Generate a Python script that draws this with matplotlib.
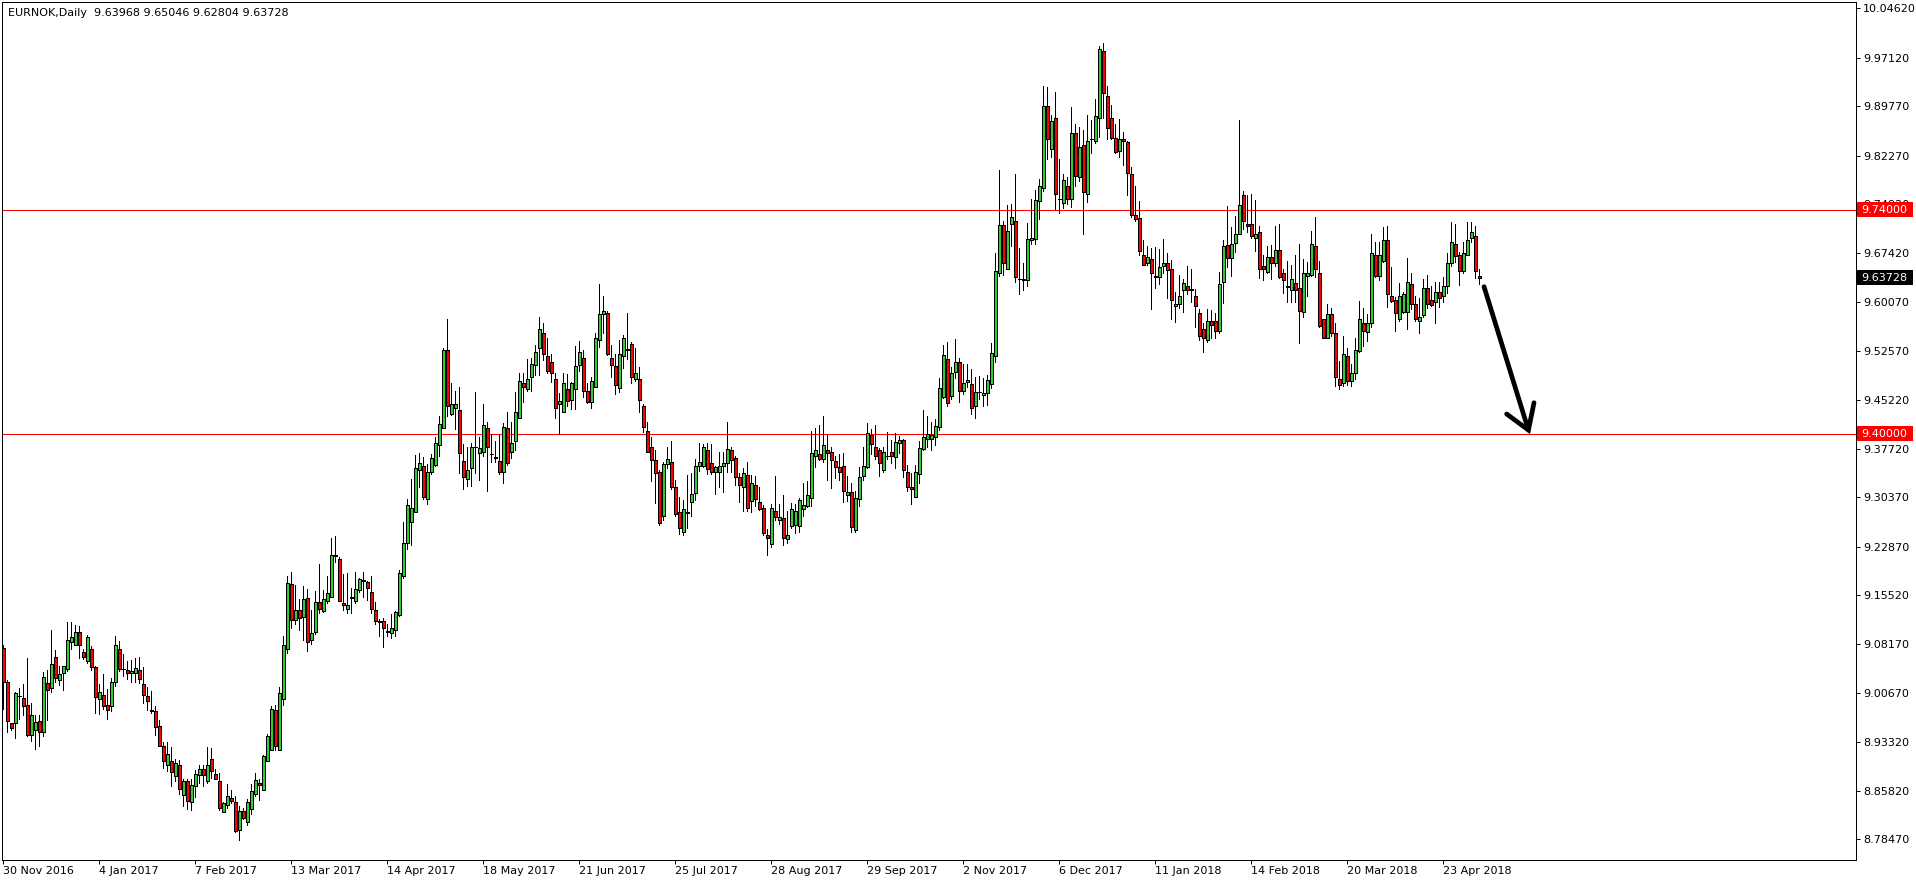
import matplotlib
matplotlib.use('Agg')
import matplotlib.pyplot as plt
from matplotlib.patches import Rectangle
import numpy as np

plt.rcParams['font.family'] = ['DejaVu Sans']

##################################################
# EURNOK daily candles, 30 Nov 2016 -> early May 2018
symbol = 'EURNOK,Daily'

opens = [
    9.075, 9.024, 8.961, 8.962, 9.002, 8.999, 8.988, 8.943, 8.950, 8.965,
    8.948, 9.022, 9.014, 9.061, 9.026, 9.037, 9.044, 9.085, 9.079, 9.100,
    9.069, 9.056, 9.074, 9.047, 8.998, 9.004, 8.988, 8.987, 9.023, 9.073,
    9.044, 9.042, 9.037, 9.037, 9.042, 9.021, 9.002, 8.981, 8.979, 8.957,
    8.927, 8.897, 8.904, 8.881, 8.897, 8.852, 8.874, 8.842, 8.866, 8.883,
    8.891, 8.873, 8.907, 8.884, 8.874, 8.826, 8.837, 8.847, 8.842, 8.799,
    8.828, 8.811, 8.831, 8.854, 8.871, 8.860, 8.904, 8.920, 8.981, 8.920,
    8.998, 9.073, 9.172, 9.118, 9.133, 9.122, 9.151, 9.087, 9.099, 9.145,
    9.131, 9.146, 9.152, 9.215, 9.211, 9.143, 9.135, 9.151, 9.146, 9.163,
    9.177, 9.175, 9.160, 9.133, 9.116, 9.116, 9.101, 9.098, 9.102, 9.126,
    9.184, 9.235, 9.267, 9.281, 9.345, 9.351, 9.301, 9.342, 9.353, 9.384,
    9.409, 9.527, 9.431, 9.440, 9.437, 9.359, 9.331, 9.349, 9.380, 9.371,
    9.373, 9.409, 9.370, 9.365, 9.359, 9.342, 9.409, 9.372, 9.390, 9.424,
    9.478, 9.468, 9.487, 9.504, 9.531, 9.554, 9.519, 9.510, 9.484, 9.446,
    9.434, 9.468, 9.451, 9.469, 9.504, 9.516, 9.465, 9.448, 9.471, 9.542,
    9.582, 9.584, 9.516, 9.503, 9.470, 9.519, 9.529, 9.536, 9.484, 9.484,
    9.442, 9.405, 9.380, 9.360, 9.342, 9.275, 9.354, 9.357, 9.319, 9.281,
    9.252, 9.281, 9.297, 9.310, 9.351, 9.352, 9.375, 9.356, 9.343, 9.343,
    9.351, 9.356, 9.375, 9.363, 9.334, 9.320, 9.338, 9.298, 9.323, 9.297,
    9.287, 9.247, 9.233, 9.283, 9.269, 9.272, 9.241, 9.260, 9.262, 9.260,
    9.286, 9.290, 9.303, 9.366, 9.369, 9.362, 9.376, 9.373, 9.359, 9.350,
    9.351, 9.308, 9.312, 9.254, 9.301, 9.336, 9.350, 9.399, 9.380, 9.376,
    9.346, 9.367, 9.373, 9.365, 9.386, 9.391, 9.342, 9.320, 9.305, 9.340,
    9.377, 9.392, 9.392, 9.396, 9.410, 9.456, 9.514, 9.458, 9.494, 9.509,
    9.465, 9.479, 9.476, 9.442, 9.464, 9.459, 9.462, 9.476, 9.518, 9.645,
    9.717, 9.651, 9.718, 9.723, 9.636, 9.635, 9.633, 9.694, 9.696, 9.753,
    9.774, 9.898, 9.833, 9.879, 9.757, 9.750, 9.777, 9.757, 9.857, 9.790,
    9.839, 9.765, 9.848, 9.844, 9.880, 9.981, 9.913, 9.879, 9.850, 9.829,
    9.847, 9.843, 9.795, 9.732, 9.728, 9.672, 9.659, 9.666, 9.640, 9.639,
    9.655, 9.660, 9.650, 9.594, 9.597, 9.619, 9.624, 9.620, 9.609, 9.584,
    9.560, 9.543, 9.571, 9.571, 9.556, 9.630, 9.687, 9.667, 9.690, 9.704,
    9.762, 9.718, 9.719, 9.698, 9.706, 9.655, 9.646, 9.669, 9.659, 9.680,
    9.645, 9.624, 9.618, 9.629, 9.621, 9.585, 9.640, 9.641, 9.685, 9.645,
    9.574, 9.545, 9.582, 9.554, 9.484, 9.478, 9.518, 9.481, 9.492, 9.526,
    9.568, 9.555, 9.569, 9.671, 9.640, 9.663, 9.695, 9.610, 9.604, 9.575,
    9.585, 9.585, 9.627, 9.598, 9.571, 9.581, 9.622, 9.604, 9.600, 9.616,
    9.610, 9.624, 9.659, 9.689, 9.671, 9.648, 9.671, 9.697, 9.701, 9.63968,
]

highs = [
    9.080, 9.027, 8.962, 9.009, 9.014, 9.021, 9.060, 8.991, 8.974, 8.974,
    9.038, 9.042, 9.103, 9.072, 9.048, 9.048, 9.115, 9.115, 9.110, 9.108,
    9.074, 9.095, 9.078, 9.048, 9.021, 9.035, 9.013, 9.029, 9.094, 9.086,
    9.066, 9.056, 9.057, 9.060, 9.061, 9.047, 9.016, 9.010, 8.987, 8.966,
    8.932, 8.932, 8.925, 8.906, 8.905, 8.876, 8.877, 8.876, 8.890, 8.898,
    8.897, 8.925, 8.923, 8.892, 8.885, 8.842, 8.868, 8.860, 8.850, 8.835,
    8.832, 8.846, 8.868, 8.885, 8.877, 8.913, 8.945, 8.987, 8.989, 9.016,
    9.094, 9.185, 9.191, 9.171, 9.149, 9.170, 9.165, 9.133, 9.162, 9.203,
    9.163, 9.185, 9.242, 9.245, 9.214, 9.187, 9.189, 9.167, 9.191, 9.181,
    9.191, 9.177, 9.185, 9.145, 9.119, 9.120, 9.112, 9.127, 9.132, 9.194,
    9.267, 9.301, 9.332, 9.368, 9.371, 9.365, 9.354, 9.370, 9.396, 9.428,
    9.530, 9.574, 9.477, 9.466, 9.472, 9.385, 9.380, 9.387, 9.464, 9.396,
    9.446, 9.418, 9.400, 9.389, 9.398, 9.416, 9.433, 9.418, 9.464, 9.493,
    9.492, 9.514, 9.515, 9.535, 9.577, 9.568, 9.545, 9.522, 9.492, 9.462,
    9.492, 9.491, 9.479, 9.534, 9.541, 9.527, 9.478, 9.486, 9.553, 9.628,
    9.609, 9.586, 9.535, 9.522, 9.542, 9.550, 9.583, 9.539, 9.530, 9.501,
    9.446, 9.418, 9.396, 9.376, 9.345, 9.358, 9.381, 9.390, 9.330, 9.304,
    9.300, 9.338, 9.341, 9.362, 9.386, 9.385, 9.386, 9.385, 9.352, 9.373,
    9.372, 9.418, 9.381, 9.366, 9.341, 9.348, 9.358, 9.338, 9.336, 9.320,
    9.292, 9.256, 9.294, 9.337, 9.294, 9.308, 9.283, 9.295, 9.294, 9.303,
    9.325, 9.328, 9.405, 9.409, 9.414, 9.428, 9.399, 9.380, 9.367, 9.370,
    9.371, 9.336, 9.326, 9.314, 9.350, 9.381, 9.417, 9.407, 9.414, 9.379,
    9.381, 9.403, 9.391, 9.402, 9.397, 9.393, 9.353, 9.341, 9.353, 9.389,
    9.437, 9.428, 9.418, 9.423, 9.485, 9.535, 9.539, 9.502, 9.544, 9.515,
    9.507, 9.507, 9.499, 9.487, 9.488, 9.485, 9.489, 9.538, 9.674, 9.801,
    9.723, 9.747, 9.749, 9.795, 9.683, 9.660, 9.721, 9.756, 9.771, 9.787,
    9.928, 9.926, 9.884, 9.919, 9.817, 9.795, 9.790, 9.897, 9.870, 9.866,
    9.862, 9.884, 9.877, 9.908, 9.989, 9.993, 9.928, 9.900, 9.870, 9.878,
    9.858, 9.844, 9.805, 9.777, 9.753, 9.694, 9.685, 9.683, 9.684, 9.681,
    9.696, 9.675, 9.664, 9.615, 9.641, 9.635, 9.655, 9.650, 9.620, 9.589,
    9.569, 9.589, 9.588, 9.584, 9.646, 9.694, 9.746, 9.714, 9.731, 9.876,
    9.769, 9.763, 9.764, 9.755, 9.715, 9.671, 9.685, 9.687, 9.716, 9.718,
    9.651, 9.662, 9.656, 9.671, 9.689, 9.665, 9.661, 9.708, 9.729, 9.662,
    9.575, 9.597, 9.591, 9.568, 9.511, 9.549, 9.530, 9.507, 9.546, 9.602,
    9.592, 9.582, 9.703, 9.691, 9.692, 9.714, 9.715, 9.654, 9.608, 9.629,
    9.616, 9.667, 9.645, 9.609, 9.606, 9.635, 9.641, 9.625, 9.631, 9.630,
    9.638, 9.675, 9.722, 9.719, 9.677, 9.691, 9.722, 9.722, 9.715, 9.65046,
]

lows = [
    8.982, 8.947, 8.951, 8.938, 8.968, 8.974, 8.942, 8.934, 8.922, 8.927,
    8.941, 8.966, 9.008, 9.023, 9.019, 9.012, 9.041, 9.073, 9.079, 9.060,
    9.058, 9.053, 9.042, 8.976, 8.975, 8.982, 8.968, 8.979, 9.018, 9.041,
    9.032, 9.028, 9.023, 9.023, 9.022, 8.991, 8.981, 8.976, 8.943, 8.926,
    8.893, 8.888, 8.865, 8.873, 8.854, 8.836, 8.831, 8.829, 8.849, 8.870,
    8.865, 8.870, 8.878, 8.877, 8.829, 8.826, 8.833, 8.840, 8.796, 8.784,
    8.815, 8.806, 8.823, 8.850, 8.844, 8.860, 8.904, 8.920, 8.921, 8.920,
    8.988, 9.068, 9.105, 9.112, 9.102, 9.087, 9.071, 9.082, 9.096, 9.128,
    9.130, 9.144, 9.152, 9.206, 9.146, 9.133, 9.128, 9.128, 9.143, 9.160,
    9.153, 9.148, 9.128, 9.111, 9.094, 9.076, 9.093, 9.090, 9.093, 9.124,
    9.182, 9.225, 9.231, 9.281, 9.319, 9.302, 9.293, 9.340, 9.351, 9.367,
    9.409, 9.428, 9.429, 9.407, 9.341, 9.317, 9.321, 9.321, 9.341, 9.330,
    9.366, 9.313, 9.358, 9.357, 9.340, 9.325, 9.353, 9.364, 9.376, 9.424,
    9.448, 9.466, 9.466, 9.489, 9.489, 9.512, 9.493, 9.479, 9.425, 9.400,
    9.433, 9.442, 9.438, 9.438, 9.496, 9.456, 9.447, 9.440, 9.471, 9.532,
    9.553, 9.520, 9.486, 9.460, 9.464, 9.500, 9.514, 9.478, 9.481, 9.434,
    9.403, 9.372, 9.329, 9.296, 9.262, 9.269, 9.349, 9.316, 9.275, 9.248,
    9.247, 9.258, 9.275, 9.300, 9.344, 9.350, 9.340, 9.340, 9.309, 9.319,
    9.312, 9.343, 9.343, 9.323, 9.297, 9.283, 9.283, 9.281, 9.290, 9.284,
    9.247, 9.216, 9.228, 9.269, 9.264, 9.231, 9.234, 9.257, 9.250, 9.252,
    9.276, 9.289, 9.290, 9.350, 9.361, 9.357, 9.330, 9.318, 9.333, 9.330,
    9.297, 9.298, 9.251, 9.251, 9.290, 9.330, 9.348, 9.370, 9.362, 9.336,
    9.343, 9.362, 9.356, 9.349, 9.371, 9.334, 9.313, 9.294, 9.305, 9.325,
    9.375, 9.381, 9.375, 9.383, 9.406, 9.454, 9.443, 9.453, 9.485, 9.449,
    9.460, 9.471, 9.431, 9.425, 9.453, 9.442, 9.444, 9.470, 9.510, 9.640,
    9.641, 9.651, 9.686, 9.631, 9.613, 9.619, 9.624, 9.689, 9.688, 9.727,
    9.769, 9.818, 9.821, 9.742, 9.735, 9.743, 9.749, 9.745, 9.777, 9.784,
    9.704, 9.752, 9.827, 9.841, 9.851, 9.880, 9.848, 9.847, 9.827, 9.821,
    9.808, 9.763, 9.730, 9.724, 9.671, 9.656, 9.656, 9.589, 9.622, 9.628,
    9.644, 9.607, 9.575, 9.570, 9.592, 9.585, 9.613, 9.600, 9.562, 9.542,
    9.524, 9.540, 9.546, 9.546, 9.554, 9.599, 9.653, 9.640, 9.676, 9.704,
    9.711, 9.706, 9.697, 9.678, 9.637, 9.633, 9.645, 9.635, 9.655, 9.637,
    9.614, 9.601, 9.600, 9.600, 9.538, 9.577, 9.609, 9.640, 9.638, 9.563,
    9.545, 9.545, 9.548, 9.473, 9.469, 9.473, 9.475, 9.473, 9.484, 9.524,
    9.534, 9.541, 9.563, 9.639, 9.633, 9.661, 9.593, 9.601, 9.557, 9.572,
    9.584, 9.560, 9.589, 9.572, 9.554, 9.578, 9.592, 9.594, 9.569, 9.593,
    9.601, 9.614, 9.655, 9.661, 9.626, 9.644, 9.671, 9.691, 9.637, 9.62804,
]

closes = [
    9.023, 8.965, 8.953, 9.007, 9.003, 8.987, 8.943, 8.973, 8.963, 8.948,
    9.031, 9.012, 9.051, 9.030, 9.036, 9.048, 9.087, 9.092, 9.100, 9.079,
    9.062, 9.092, 9.046, 9.001, 9.009, 8.987, 8.981, 9.024, 9.079, 9.044,
    9.043, 9.037, 9.041, 9.045, 9.028, 9.004, 8.995, 8.980, 8.956, 8.927,
    8.903, 8.915, 8.887, 8.900, 8.861, 8.874, 8.843, 8.867, 8.884, 8.892,
    8.883, 8.898, 8.888, 8.877, 8.832, 8.840, 8.850, 8.843, 8.797, 8.828,
    8.817, 8.842, 8.858, 8.875, 8.867, 8.911, 8.942, 8.983, 8.926, 9.007,
    9.080, 9.174, 9.118, 9.133, 9.120, 9.149, 9.084, 9.098, 9.145, 9.134,
    9.149, 9.158, 9.216, 9.216, 9.146, 9.140, 9.140, 9.153, 9.164, 9.180,
    9.178, 9.166, 9.134, 9.116, 9.114, 9.106, 9.100, 9.105, 9.130, 9.189,
    9.235, 9.292, 9.287, 9.349, 9.356, 9.305, 9.343, 9.363, 9.387, 9.415,
    9.527, 9.442, 9.445, 9.446, 9.371, 9.335, 9.345, 9.381, 9.381, 9.378,
    9.413, 9.380, 9.369, 9.363, 9.343, 9.410, 9.356, 9.387, 9.434, 9.481,
    9.471, 9.484, 9.507, 9.525, 9.560, 9.522, 9.496, 9.492, 9.440, 9.450,
    9.477, 9.450, 9.477, 9.503, 9.525, 9.465, 9.448, 9.480, 9.545, 9.582,
    9.586, 9.521, 9.504, 9.475, 9.522, 9.545, 9.528, 9.486, 9.492, 9.451,
    9.410, 9.372, 9.361, 9.341, 9.265, 9.354, 9.362, 9.319, 9.279, 9.258,
    9.286, 9.280, 9.309, 9.352, 9.357, 9.380, 9.347, 9.343, 9.350, 9.352,
    9.356, 9.377, 9.360, 9.335, 9.322, 9.341, 9.287, 9.326, 9.301, 9.286,
    9.250, 9.242, 9.287, 9.274, 9.274, 9.242, 9.246, 9.286, 9.283, 9.300,
    9.292, 9.307, 9.371, 9.376, 9.362, 9.383, 9.371, 9.360, 9.350, 9.343,
    9.314, 9.312, 9.259, 9.303, 9.335, 9.351, 9.401, 9.385, 9.366, 9.356,
    9.372, 9.366, 9.367, 9.388, 9.391, 9.346, 9.320, 9.316, 9.342, 9.379,
    9.396, 9.400, 9.399, 9.412, 9.470, 9.520, 9.447, 9.492, 9.509, 9.466,
    9.478, 9.482, 9.439, 9.464, 9.463, 9.462, 9.482, 9.523, 9.647, 9.717,
    9.660, 9.708, 9.729, 9.639, 9.635, 9.634, 9.696, 9.698, 9.755, 9.777,
    9.898, 9.848, 9.875, 9.764, 9.756, 9.786, 9.757, 9.857, 9.792, 9.836,
    9.768, 9.844, 9.847, 9.882, 9.985, 9.918, 9.865, 9.849, 9.828, 9.847,
    9.844, 9.796, 9.733, 9.727, 9.678, 9.657, 9.669, 9.644, 9.639, 9.653,
    9.660, 9.649, 9.603, 9.597, 9.609, 9.629, 9.619, 9.618, 9.594, 9.548,
    9.545, 9.572, 9.566, 9.557, 9.627, 9.686, 9.667, 9.689, 9.703, 9.747,
    9.724, 9.716, 9.701, 9.703, 9.650, 9.650, 9.669, 9.660, 9.680, 9.639,
    9.633, 9.623, 9.636, 9.618, 9.587, 9.644, 9.645, 9.689, 9.651, 9.564,
    9.546, 9.582, 9.554, 9.487, 9.475, 9.521, 9.481, 9.492, 9.528, 9.574,
    9.557, 9.568, 9.674, 9.640, 9.671, 9.695, 9.613, 9.602, 9.583, 9.609,
    9.612, 9.630, 9.598, 9.575, 9.578, 9.622, 9.597, 9.596, 9.616, 9.607,
    9.625, 9.660, 9.691, 9.670, 9.648, 9.674, 9.695, 9.706, 9.648, 9.63728,
]

# one label every 24 bars
date_labels = ['30 Nov 2016', '4 Jan 2017', '7 Feb 2017', '13 Mar 2017', '14 Apr 2017',
               '18 May 2017', '21 Jun 2017', '25 Jul 2017', '28 Aug 2017', '29 Sep 2017',
               '2 Nov 2017', '6 Dec 2017', '11 Jan 2018', '14 Feb 2018', '20 Mar 2018',
               '23 Apr 2018']
label_step = 24

price_ticks = [10.04620, 9.97120, 9.89770, 9.82270, 9.74920, 9.67420, 9.60070, 9.52570,
               9.45220, 9.37720, 9.30370, 9.22870, 9.15520, 9.08170, 9.00670, 8.93320,
               8.85820, 8.78470]

# support / resistance levels drawn on the chart
resistance = 9.74
support = 9.40

# hand drawn arrow (bar index, price)
arrow_x = [370.2, 381.3]
arrow_y = [9.6236, 9.406]
head_x = [375.85, 381.3, 382.7]
head_y = [9.4304, 9.406, 9.4475]

##################################################
W, H = 1916, 884
PX = 72 / 100  # one pixel in points
fig = plt.figure(figsize=(W / 100, H / 100), dpi=100)
ax = fig.add_axes([2 / W, 24 / H, 1854 / W, 858 / H])

o = np.array(opens)
h = np.array(highs)
l = np.array(lows)
c = np.array(closes)
x = np.arange(len(c))

colors = np.where(c > o, '#32cd32', np.where(c < o, '#ff0000', 'black'))

# wicks then bodies
ax.vlines(x, l, h, color='black', linewidth=PX, antialiased=False, zorder=2)
ax.bar(x, np.maximum(np.abs(c - o), 0.0002), bottom=np.minimum(o, c), width=0.72,
       color=colors, edgecolor='black', linewidth=PX, antialiased=False, zorder=3)

ax.axhline(resistance, color='red', linewidth=PX, antialiased=False, zorder=1)
ax.axhline(support, color='red', linewidth=PX, antialiased=False, zorder=1)

# arrow
ax.plot(arrow_x, arrow_y, color='black', linewidth=3.4, solid_capstyle='round', zorder=4)
ax.plot(head_x, head_y, color='black', linewidth=3.4, solid_capstyle='round',
        solid_joinstyle='miter', zorder=4)

ax.set_xlim(-0.325, 463.2)
ax.set_ylim(8.7534, 10.0557)

ax.yaxis.tick_right()
ax.set_yticks(price_ticks)
ax.set_yticklabels([f'{v:.5f}' for v in price_ticks])
ax.set_xticks(np.arange(len(date_labels)) * label_step)
ax.set_xticklabels(date_labels, ha='left')
ax.tick_params(axis='both', direction='out', length=3, width=PX, labelsize=8,
               colors='black')
ax.tick_params(axis='y', pad=2)
ax.tick_params(axis='x', pad=1)
for s in ax.spines.values():
    s.set_linewidth(PX)
    s.set_color('black')


def price_tag(value, face):
    # coloured box on the price scale
    y = ax.transData.transform((0, value))[1]
    fig.add_artist(Rectangle((1857 / W, (y - 7.5) / H), 56 / W, 15 / H,
                             transform=fig.transFigure, facecolor=face,
                             edgecolor='none', zorder=5))
    fig.text(1861 / W, y / H, f'{value:.5f}', color='white', fontsize=8,
             ha='left', va='center', zorder=6)


price_tag(resistance, 'red')
price_tag(support, 'red')
price_tag(closes[-1], 'black')

header = f'{symbol}  {opens[-1]:.5f} {highs[-1]:.5f} {lows[-1]:.5f} {closes[-1]:.5f}'
fig.text(8 / W, 1 - 13 / H, header, fontsize=8, ha='left', va='center')

fig.savefig('out.png', dpi=100)
